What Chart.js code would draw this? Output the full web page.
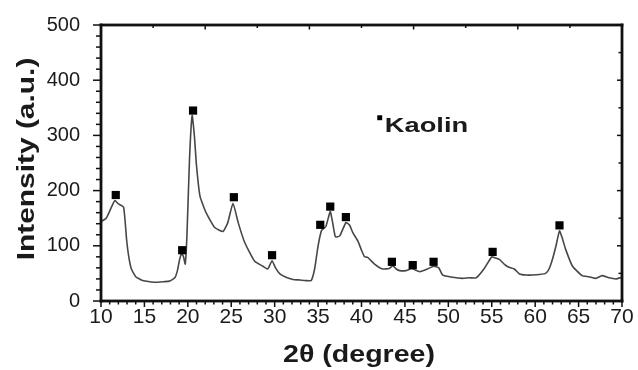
<!DOCTYPE html>
<html>
<head>
<meta charset="utf-8">
<script src="https://cdn.jsdelivr.net/npm/chart.js@4/dist/chart.umd.min.js"></script>
<style>
    html, body { margin: 0; padding: 0; background: #fff; }
    #wrap { width: 638px; height: 370px; }
</style>
</head>
<body>
<div id="wrap"><canvas id="xrd"></canvas></div>
<script>
"use strict";

// 2θ (degree)
const theta = [
    10, 10.6, 11.2, 11.6, 12.0, 12.6, 12.95, 13.2, 13.5, 14.0, 14.8, 15.6, 16.4, 17.2, 17.9,
    18.5, 18.8, 19.05, 19.3, 19.5, 19.7, 19.9, 20.2, 20.5, 20.75, 21.0, 21.4, 22.1, 23.1, 24.05,
    24.6, 25.2, 25.8, 26.55, 27.7, 28.65, 29.2, 29.7, 30.1, 30.6, 31.3, 32.1, 32.9, 33.6, 34.2,
    34.6, 35.0, 35.4, 35.9, 36.4, 36.7, 37.0, 37.5, 38.2, 38.6, 39.0, 39.6, 40.0, 40.35, 40.7,
    41.5, 42.45, 43.2, 43.6, 44.0, 44.4, 45.1, 45.8, 46.2, 46.7, 47.6, 48.3, 48.9, 49.35, 50.5,
    51.6, 52.4, 53.2, 54.1, 55.0, 55.4, 55.9, 56.5, 57.0, 57.6, 58.2, 59.0, 59.7, 60.5, 61.2,
    61.6, 62.0, 62.4, 62.8, 63.1, 63.5, 64.3, 65.4, 66.2, 67.0, 67.7, 68.5, 69.3, 70
];
// Intensity (a.u.)
const intensity = [
    144, 150, 170, 182, 176, 170, 111, 80, 58, 44, 37, 35, 34, 35, 36,
    42, 55, 75, 86, 80, 67, 120, 260, 336, 300, 245, 190, 160, 133, 126,
    142, 177, 142, 106, 72, 63, 58, 73, 60, 49, 43, 39, 38, 37, 37,
    58, 100, 128, 135, 162, 140, 116, 118, 142, 138, 124, 108, 92, 80, 79,
    67, 58, 59, 64, 58, 55, 55, 59, 56, 53, 58, 63, 60, 47, 43,
    41, 42, 42, 58, 80, 78, 75, 66, 61, 58, 49, 47, 47, 48, 50,
    58, 76, 100, 127, 115, 94, 63, 46, 44, 41, 46, 42, 40, 43
];
// Kaolin のピーク位置
const peakTheta = [11.7, 19.35, 20.6, 25.3, 29.7, 35.25, 36.4, 38.2, 43.5, 45.9, 48.3, 55.1, 62.8];
const peakMark = [192, 92, 345, 188, 83, 138, 171, 152, 71, 65, 71, 89, 137];
// 凡例
const legendPoint = [{ x: 42.1, y: 332 }];
const legendText = "Kaolin";

const xTicks = [10, 15, 20, 25, 30, 35, 40, 45, 50, 55, 60, 65, 70];
const yTicks = [0, 100, 200, 300, 400, 500];

const curve = theta.map((t, i) => ({ x: t, y: intensity[i] }));
const peaks = peakTheta.map((t, i) => ({ x: t, y: peakMark[i] }));

const FAMILY = '"Liberation Sans", Arial, sans-serif';

// 横に伸ばした太字テキスト
function wideText(ctx, text, x, y, rot, stretch) {
    ctx.save();
    ctx.translate(x, y);
    ctx.rotate(rot);
    ctx.scale(stretch, 1);
    ctx.fillText(text, 0, 0);
    ctx.restore();
}

// 枠・目盛・タイトル
const framePlugin = {
    id: "frame",
    afterDraw(chart) {
        const c = chart.ctx;
        const a = chart.chartArea;
        const xs = chart.scales.x;
        const ys = chart.scales.y;
        c.save();
        c.fillStyle = "#111111";
        const tw = 1.5;
        // 下・左の目盛 (外向き)
        for (let v = 10; v <= 70; v += 1) {
            const px = xs.getPixelForValue(v);
            const len = v % 5 === 0 ? 6 : 3.5;
            c.fillRect(px - tw / 2, a.bottom, tw, len);
        }
        for (let v = 0; v <= 500; v += 20) {
            const py = ys.getPixelForValue(v);
            const len = v % 100 === 0 ? 8 : 5;
            c.fillRect(a.left - len, py - tw / 2, len, tw);
        }
        // 上・右の目盛 (内向き)
        for (let v = 16; v < 70; v += 6) {
            const px = xs.getPixelForValue(v);
            const len = (v - 10) % 12 === 0 ? 4.5 : 3;
            c.fillRect(px - tw / 2, a.top, tw, len);
        }
        for (let v = 50; v < 500; v += 50) {
            const py = ys.getPixelForValue(v);
            const len = v % 100 === 0 ? 5 : 3.5;
            c.fillRect(a.right - len, py - tw / 2, len, tw);
        }
        // 枠
        const w = 2.8;
        c.fillRect(a.left - w / 2, a.top - w / 2, a.right - a.left + w, w);
        c.fillRect(a.left - w / 2, a.bottom - w / 2, a.right - a.left + w, w);
        c.fillRect(a.left - w / 2, a.top - w / 2, w, a.bottom - a.top + w);
        c.fillRect(a.right - w / 2, a.top - w / 2, w, a.bottom - a.top + w);

        // タイトル
        c.fillStyle = "#1a1a1a";
        c.textAlign = "center";
        c.textBaseline = "middle";
        c.font = "bold 23px " + FAMILY;
        wideText(c, "Intensity (a.u.)", 28, 159, -Math.PI / 2, 1.3);
        c.font = "bold 24px " + FAMILY;
        wideText(c, "2\u03b8 (degree)", 359, 355, 0, 1.19);

        // 凡例テキスト
        const lx = xs.getPixelForValue(legendPoint[0].x);
        const ly = ys.getPixelForValue(legendPoint[0].y);
        c.font = "bold 21px " + FAMILY;
        c.textAlign = "left";
        c.textBaseline = "alphabetic";
        wideText(c, legendText, lx + 5, ly + 14, 0, 1.3);
        c.restore();
    }
};

const canvas = document.getElementById("xrd");
new Chart(canvas, {
    type: "scatter",
    data: {
        datasets: [
            {
                label: "XRD",
                data: curve,
                showLine: true,
                borderColor: "#474747",
                borderWidth: 1.6,
                pointRadius: 0,
                tension: 0.15,
                order: 2
            },
            {
                label: "Kaolin",
                data: peaks,
                showLine: false,
                pointStyle: "rect",
                pointRadius: 5.8,
                backgroundColor: "#000",
                borderColor: "#000",
                borderWidth: 0,
                order: 1
            },
            {
                label: "legend",
                data: legendPoint,
                showLine: false,
                pointStyle: "rect",
                pointRadius: 3.5,
                backgroundColor: "#000",
                borderWidth: 0,
                order: 0
            }
        ]
    },
    options: {
        responsive: true,
        maintainAspectRatio: false,
        animation: false,
        layout: { padding: { top: 24, right: 16, left: 0, bottom: 0 } },
        plugins: {
            legend: { display: false },
            tooltip: { enabled: false }
        },
        scales: {
            x: {
                type: "linear",
                min: 10,
                max: 70,
                afterBuildTicks: s => { s.ticks = xTicks.map(v => ({ value: v })); },
                afterFit: s => { s.height = 69; },
                grid: { display: false },
                border: { display: false },
                ticks: {
                    padding: -4,
                    color: "#1a1a1a",
                    font: { family: FAMILY, size: 21 }
                }
            },
            y: {
                min: 0,
                max: 500,
                afterBuildTicks: s => { s.ticks = yTicks.map(v => ({ value: v })); },
                afterFit: s => { s.width = 101; },
                grid: { display: false },
                border: { display: false },
                ticks: {
                    padding: 13,
                    color: "#1a1a1a",
                    font: { family: FAMILY, size: 20 }
                }
            }
        }
    },
    plugins: [framePlugin]
});
</script>
</body>
</html>
